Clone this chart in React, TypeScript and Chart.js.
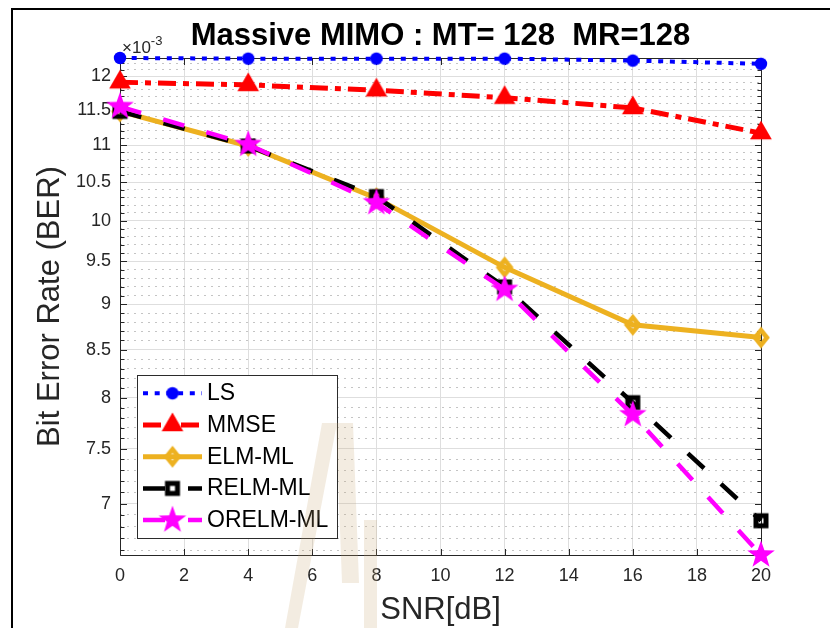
import React, { useEffect, useRef } from 'react';
import { Chart, registerables } from 'chart.js';

Chart.register(...registerables);

// ---- text ----
const TITLE = 'Massive MIMO : MT= 128  MR=128';
const X_LABEL = 'SNR[dB]';
const Y_LABEL = 'Bit Error Rate (BER)';
const Y_EXPONENT = '-3';

// ---- axes ----
const SNR_DB = [0, 4, 8, 12, 16, 20];
const X_TICKS = [0, 2, 4, 6, 8, 10, 12, 14, 16, 18, 20];
// labelled y ticks, in units of 10^-3
const Y_MAJOR_TICKS = [7, 7.5, 8, 8.5, 9, 9.5, 10, 10.5, 11, 11.5, 12];
// unlabelled y ticks every 0.1 (x10^-3)
const Y_MINOR_STEP = 0.1;

// ---- series (BER) ----
const SERIES_NAMES = ['LS', 'MMSE', 'ELM-ML', 'RELM-ML', 'ORELM-ML'];
const BER_LS = [12.28e-3, 12.27e-3, 12.27e-3, 12.27e-3, 12.24e-3, 12.19e-3];
const BER_MMSE = [11.91e-3, 11.87e-3, 11.79e-3, 11.68e-3, 11.53e-3, 11.17e-3];
const BER_ELM = [11.48e-3, 10.99e-3, 10.29e-3, 9.43e-3, 8.77e-3, 8.63e-3];
const BER_RELM = [11.48e-3, 10.99e-3, 10.31e-3, 9.2e-3, 7.95e-3, 6.85e-3];
const BER_ORELM = [11.55e-3, 11.01e-3, 10.23e-3, 9.17e-3, 7.83e-3, 6.56e-3];

const ALL_BER = [...BER_LS, ...BER_MMSE, ...BER_ELM, ...BER_RELM, ...BER_ORELM];
const Y_MIN = Math.min(...ALL_BER);
const Y_MAX = Math.max(...ALL_BER);

const FONT = '"Liberation Sans", Arial, Helvetica, sans-serif';
const AXIS_COLOR = '#262626';
const GRID_MAJOR = '#dedede';
const GRID_MINOR = '#c4c4c4';

const isMajorY = (v: number) => Y_MAJOR_TICKS.some((m) => Math.abs(m * 1e-3 - v) < 1e-9);
const majorLabel = (v: number) => {
  const m = Y_MAJOR_TICKS.find((t) => Math.abs(t * 1e-3 - v) < 1e-9);
  return m === undefined ? '' : String(m);
};

function makeMarker(size: number, draw: (ctx: CanvasRenderingContext2D, c: number) => void) {
  const cv = document.createElement('canvas');
  cv.width = size;
  cv.height = size;
  const ctx = cv.getContext('2d')!;
  draw(ctx, size / 2);
  return cv;
}

function makeMarkers() {
  const circle = makeMarker(16, (ctx, c) => {
    ctx.fillStyle = '#0000ff';
    ctx.beginPath();
    ctx.arc(c, c, 6.2, 0, Math.PI * 2);
    ctx.fill();
  });
  const triangle = makeMarker(30, (ctx, c) => {
    const R = 12.5;
    ctx.fillStyle = '#ff0000';
    ctx.beginPath();
    ctx.moveTo(c, c - R);
    ctx.lineTo(c + R * 0.866, c + R * 0.5);
    ctx.lineTo(c - R * 0.866, c + R * 0.5);
    ctx.closePath();
    ctx.fill();
  });
  const diamond = makeMarker(28, (ctx, c) => {
    ctx.strokeStyle = '#EDB120';
    ctx.lineWidth = 4.5;
    ctx.lineJoin = 'miter';
    ctx.beginPath();
    ctx.moveTo(c, c - 7.5);
    ctx.lineTo(c + 6, c);
    ctx.lineTo(c, c + 7.5);
    ctx.lineTo(c - 6, c);
    ctx.closePath();
    ctx.stroke();
  });
  const square = makeMarker(20, (ctx, c) => {
    ctx.strokeStyle = '#000000';
    ctx.lineWidth = 5;
    ctx.strokeRect(c - 5, c - 5, 10, 10);
  });
  const star = makeMarker(32, (ctx, c) => {
    const R = 14.5;
    const r = 5.8;
    ctx.fillStyle = '#ff00ff';
    ctx.beginPath();
    for (let i = 0; i < 10; i++) {
      const rad = i % 2 === 0 ? R : r;
      const a = -Math.PI / 2 + (i * Math.PI) / 5;
      const px = c + rad * Math.cos(a);
      const py = c + rad * Math.sin(a);
      if (i === 0) ctx.moveTo(px, py);
      else ctx.lineTo(px, py);
    }
    ctx.closePath();
    ctx.fill();
  });
  return { circle, triangle, diamond, square, star };
}

const decorPlugin = {
  id: 'decor',
  beforeDatasetsDraw(chart: any) {
    const { ctx, chartArea } = chart;
    const { left, right, top, bottom } = chartArea;
    const L = Math.round(left) + 0.5;
    const R = Math.round(right) + 0.5;
    const T = Math.round(top) + 0.5;
    const B = Math.round(bottom) + 0.5;
    ctx.save();
    ctx.strokeStyle = AXIS_COLOR;
    ctx.lineWidth = 1;
    ctx.setLineDash([]);
    ctx.beginPath();
    ctx.rect(L, T, R - L, B - T);
    const yScale = chart.scales.y;
    for (const t of yScale.ticks) {
      const py = Math.round(yScale.getPixelForValue(t.value)) + 0.5;
      const len = isMajorY(t.value) ? 6.5 : 4;
      ctx.moveTo(L, py);
      ctx.lineTo(L + len, py);
      ctx.moveTo(R, py);
      ctx.lineTo(R - len, py);
    }
    const xScale = chart.scales.x;
    for (const t of xScale.ticks) {
      const px = Math.round(xScale.getPixelForValue(t.value)) + 0.5;
      ctx.moveTo(px, B);
      ctx.lineTo(px, B - 6.5);
      ctx.moveTo(px, T);
      ctx.lineTo(px, T + 6.5);
    }
    ctx.stroke();
    ctx.restore();
  },
  afterDatasetsDraw(chart: any) {
    // legend box
    const { ctx } = chart;
    ctx.save();
    ctx.fillStyle = '#ffffff';
    ctx.fillRect(137, 375, 201, 163);
    ctx.strokeStyle = '#2b2b2b';
    ctx.lineWidth = 1;
    ctx.setLineDash([]);
    ctx.strokeRect(137.5, 375.5, 200, 163);
    chart.data.datasets.forEach((ds: any, i: number) => {
      const y = 393.3 + i * 31.7;
      ctx.save();
      ctx.beginPath();
      ctx.setLineDash(ds.borderDash || []);
      ctx.lineDashOffset = 0;
      ctx.lineCap = 'butt';
      ctx.strokeStyle = ds.borderColor;
      ctx.lineWidth = ds.borderWidth;
      ctx.moveTo(143, y);
      ctx.lineTo(202, y);
      ctx.stroke();
      ctx.restore();
      const img = ds.pointStyle as HTMLCanvasElement;
      ctx.drawImage(img, 172.5 - img.width / 2, y - img.height / 2);
      ctx.fillStyle = '#000000';
      ctx.font = `23px ${FONT}`;
      ctx.textAlign = 'left';
      ctx.textBaseline = 'middle';
      ctx.fillText(ds.label, 207, y + 0.5);
    });
    ctx.restore();
  },
  afterDraw(chart: any) {
    const { ctx, chartArea } = chart;
    ctx.save();
    // title
    ctx.fillStyle = '#000000';
    ctx.font = `bold 31px ${FONT}`;
    ctx.textAlign = 'center';
    ctx.textBaseline = 'alphabetic';
    ctx.fillText(TITLE, (chartArea.left + chartArea.right) / 2, 45);
    // exponent of the y axis
    ctx.fillStyle = AXIS_COLOR;
    ctx.textAlign = 'left';
    ctx.font = `17px ${FONT}`;
    const base = '\u00d710';
    ctx.fillText(base, chartArea.left + 2, chartArea.top - 5);
    const w = ctx.measureText(base).width;
    ctx.font = `13px ${FONT}`;
    ctx.fillText(Y_EXPONENT, chartArea.left + 2 + w, chartArea.top - 13);
    // faint logo stamp
    ctx.fillStyle = 'rgba(200,170,120,0.22)';
    ctx.beginPath();
    ctx.moveTo(322, 423);
    ctx.lineTo(337, 423);
    ctx.lineTo(298, 628);
    ctx.lineTo(285, 628);
    ctx.closePath();
    ctx.moveTo(336, 423);
    ctx.lineTo(353, 423);
    ctx.lineTo(359, 583);
    ctx.lineTo(342, 583);
    ctx.closePath();
    ctx.moveTo(364, 520);
    ctx.lineTo(377, 520);
    ctx.lineTo(377, 628);
    ctx.lineTo(364, 628);
    ctx.closePath();
    ctx.fill('nonzero');
    // figure frame
    ctx.fillStyle = '#000000';
    ctx.fillRect(11, 8, 2, 620);
    ctx.fillRect(11, 8, 819, 2);
    ctx.restore();
  },
};

export default function App() {
  const ref = useRef<HTMLCanvasElement>(null);

  useEffect(() => {
    const canvas = ref.current;
    if (!canvas) return;
    const mk = makeMarkers();
    const toPoints = (ys: number[]) => SNR_DB.map((x, i) => ({ x, y: ys[i] }));

    const chart = new Chart(canvas, {
      type: 'line',
      data: {
        datasets: [
          {
            label: SERIES_NAMES[0],
            data: toPoints(BER_LS),
            borderColor: '#0000ff',
            borderWidth: 4,
            borderDash: [5, 6.7],
            pointStyle: mk.circle,
            order: 5,
          },
          {
            label: SERIES_NAMES[1],
            data: toPoints(BER_MMSE),
            borderColor: '#ff0000',
            borderWidth: 5,
            borderDash: [18, 7, 6, 7],
            pointStyle: mk.triangle,
            order: 4,
          },
          {
            label: SERIES_NAMES[2],
            data: toPoints(BER_ELM),
            borderColor: '#EDB120',
            borderWidth: 5,
            borderDash: [],
            pointStyle: mk.diamond,
            order: 3,
          },
          {
            label: SERIES_NAMES[3],
            data: toPoints(BER_RELM),
            borderColor: '#000000',
            borderWidth: 4.5,
            borderDash: [22, 23],
            pointStyle: mk.square,
            order: 2,
          },
          {
            label: SERIES_NAMES[4],
            data: toPoints(BER_ORELM),
            borderColor: '#ff00ff',
            borderWidth: 4.5,
            borderDash: [22, 23],
            pointStyle: mk.star,
            order: 1,
          },
        ].map((d) => ({
          ...d,
          fill: false,
          tension: 0,
          clip: false as any,
          borderCapStyle: 'butt' as const,
          borderJoinStyle: 'miter' as const,
          pointRadius: 8,
          pointHoverRadius: 8,
        })),
      },
      options: {
        responsive: false,
        animation: false,
        devicePixelRatio: 1,
        events: [],
        layout: { padding: { left: 0, right: 69, top: 58, bottom: 0 } },
        plugins: {
          legend: { display: false },
          tooltip: { enabled: false },
          title: { display: false },
        },
        scales: {
          x: {
            type: 'linear',
            min: 0,
            max: 20,
            bounds: 'data',
            afterBuildTicks: (s: any) => {
              s.ticks = X_TICKS.map((v) => ({ value: v }));
            },
            afterFit: (s: any) => {
              s.height = 73;
            },
            ticks: {
              font: { family: FONT, size: 18 },
              color: AXIS_COLOR,
              padding: 10,
              maxRotation: 0,
              autoSkip: false,
            },
            grid: { color: GRID_MAJOR, lineWidth: 1, drawTicks: false },
            border: { display: false },
            title: {
              display: true,
              text: X_LABEL,
              color: AXIS_COLOR,
              font: { family: FONT, size: 31, lineHeight: 1.1 },
              padding: { top: 0, bottom: 0 },
            },
          },
          y: {
            type: 'logarithmic',
            min: Y_MIN,
            max: Y_MAX,
            bounds: 'data',
            afterBuildTicks: (s: any) => {
              const ticks: { value: number }[] = [];
              const k0 = Math.ceil((Y_MIN * 1e3) / Y_MINOR_STEP - 1e-6);
              const k1 = Math.floor((Y_MAX * 1e3) / Y_MINOR_STEP + 1e-6);
              for (let k = k0; k <= k1; k++) ticks.push({ value: k * Y_MINOR_STEP * 1e-3 });
              s.ticks = ticks;
            },
            afterFit: (s: any) => {
              s.width = 120;
            },
            ticks: {
              font: { family: FONT, size: 18 },
              color: AXIS_COLOR,
              padding: 9,
              autoSkip: false,
              callback: (v: any) => majorLabel(Number(v)),
            },
            grid: {
              drawTicks: false,
              lineWidth: 1,
              color: (c: any) => (c.tick && !isMajorY(c.tick.value) ? GRID_MINOR : GRID_MAJOR),
            },
            border: {
              display: false,
              dash: (c: any) => (c.tick && !isMajorY(c.tick.value) ? [2, 5] : []),
            },
            title: {
              display: true,
              text: Y_LABEL,
              color: AXIS_COLOR,
              font: { family: FONT, size: 31, lineHeight: 1.1 },
              padding: { top: 33.5, bottom: 0 },
            },
          },
        },
      } as any,
      plugins: [decorPlugin],
    });

    return () => chart.destroy();
  }, []);

  return (
    <div
      style={{
        position: 'absolute',
        left: 0,
        top: 0,
        width: 830,
        height: 628,
        background: '#ffffff',
        overflow: 'hidden',
      }}
    >
      <canvas ref={ref} width={830} height={628} style={{ display: 'block', width: 830, height: 628 }} />
    </div>
  );
}
